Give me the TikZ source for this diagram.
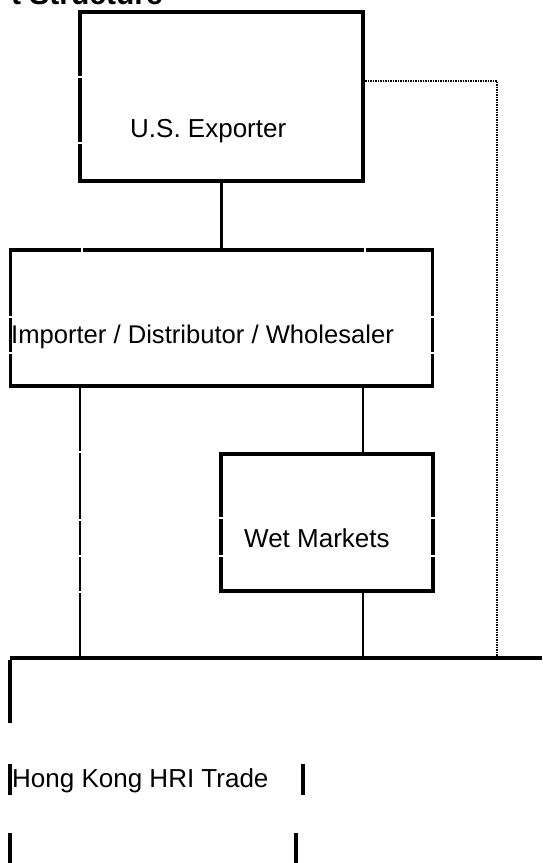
\documentclass[tikz,border=0pt]{standalone}
\usepackage{fontspec}
\setmainfont{Liberation Sans}
\begin{document}
\begin{tikzpicture}[x=1pt,y=-1pt,
  boxshape/.style={draw=black, line width=3.4pt, rectangle, inner sep=0pt},
  conn/.style={draw=black, line width=2.8pt},
  bus/.style={draw=black, line width=3.4pt},
  dotline/.style={draw=black, line width=2.6pt, dash pattern=on 1.6pt off 0.9pt},
  lbl/.style={anchor=base west, inner sep=0pt, font=\fontsize{26}{30}\selectfont},
  gapv/.style={fill=white, draw=none, minimum width=6pt, minimum height=2pt, inner sep=0pt},
  gaph/.style={fill=white, draw=none, minimum width=2pt, minimum height=6pt, inner sep=0pt}]
\useasboundingbox (0,0) rectangle (542,863);
% title (cut off at top, as in the reference)
\node[anchor=base east, inner sep=0pt, font=\bfseries\fontsize{30}{34}\selectfont] (title) at (163,4) {t Structure};
% boxes
\node[boxshape, minimum width=283pt, minimum height=169pt] (exp) at (221.5,96.5) {};
\node[boxshape, minimum width=422pt, minimum height=136pt] (imp) at (221.5,318) {};
\node[boxshape, minimum width=212pt, minimum height=137pt] (wet) at (327,522.5) {};
% labels
\node[lbl] (texp) at (130,137) {U.S. Exporter};
\node[lbl, font=\fontsize{25.6}{30}\selectfont] (timp) at (11,343) {Importer / Distributor / Wholesaler};
\node[lbl] (twet) at (244,547) {Wet Markets};
\node[lbl] (thri) at (12,787) {Hong Kong HRI Trade};
% coordinates
\coordinate (b1) at (80,658);
\coordinate (b2) at (363,658);
\coordinate (bL) at (10,658);
\coordinate (bR) at (542,658);
\coordinate (bLd) at (10,723);
\coordinate (d0) at (365,81);
\coordinate (d1) at (497,81);
\coordinate (d2) at (497,658);
\coordinate (hl1) at (10,764);
\coordinate (hl2) at (10,795);
\coordinate (hr1) at (303,764);
\coordinate (hr2) at (303,795);
\coordinate (hl3) at (10,833);
\coordinate (hl4) at (10,863);
\coordinate (hr3) at (296,833);
\coordinate (hr4) at (296,863);
% connectors
\draw[conn] (exp.south) -- (imp.north);
\draw[conn] (imp.south -| b1) -- (b1);
\draw[conn] (imp.south -| b2) -- (wet.north -| b2);
\draw[conn] (wet.south -| b2) -- (b2);
\draw[dotline] (d0) -- (d1) -- (d2);
\draw[bus] (bL) -- (bR);
\draw[bus] ([yshift=-1.7pt]bL) -- (bLd);
% HRI bars
\draw[bus] (hl1) -- (hl2);
\draw[bus] (hr1) -- (hr2);
\draw[bus] (hl3) -- (hl4);
\draw[bus] (hr3) -- (hr4);
% small rendering gaps in lines
\node[gapv] (g1) at (80,77) {};
\node[gapv] (g2) at (80,143) {};
\node[gapv] (g3) at (10.5,317) {};
\node[gapv] (g4) at (10.5,353) {};
\node[gapv] (g5) at (432.5,317) {};
\node[gapv] (g6) at (432.5,353) {};
\node[gapv] (g7) at (80,452) {};
\node[gapv] (g8) at (80,520) {};
\node[gapv] (g9) at (80,556) {};
\node[gapv] (g10) at (80,592) {};
\node[gapv] (g11) at (221,518) {};
\node[gapv] (g12) at (221,556) {};
\node[gapv] (g13) at (433,518) {};
\node[gapv] (g14) at (433,556) {};
\node[gaph] (g15) at (82,249.5) {};
\node[gaph] (g16) at (365,249.5) {};
\end{tikzpicture}
\end{document}
